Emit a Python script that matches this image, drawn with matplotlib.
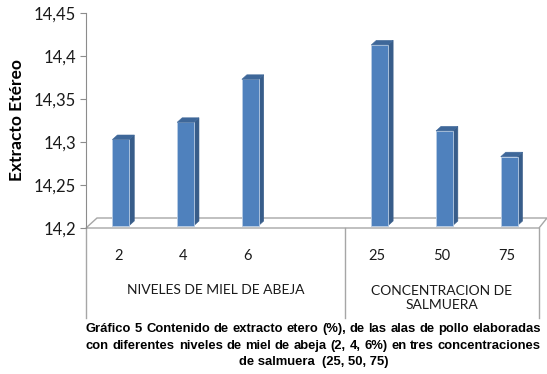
import matplotlib
matplotlib.use("Agg")
import matplotlib.pyplot as plt
from matplotlib.patches import Polygon
from matplotlib.transforms import offset_copy, IdentityTransform, blended_transform_factory
from matplotlib import font_manager

# --- data -------------------------------------------------------------
group_names = ["NIVELES DE MIEL DE ABEJA", "CONCENTRACION DE\nSALMUERA"]
miel_labels = ["2", "4", "6"]
miel_values = [14.30, 14.32, 14.37]
salmuera_labels = ["25", "50", "75"]
salmuera_values = [14.41, 14.31, 14.28]
y_ticks = [14.2, 14.25, 14.3, 14.35, 14.4, 14.45]
y_tick_labels = ["14,2", "14,25", "14,3", "14,35", "14,4", "14,45"]
y_label = "Extracto Etéreo"
caption_lines = [
    "Gráfico 5 Contenido de extracto etero (%), de las alas de pollo elaboradas",
    "con diferentes niveles de miel de abeja  (2, 4, 6%) en tres concentraciones",
    "de salmuera  (25, 50, 75)",
]

# --- styling ------------------------------------------------------------
W, H, DPI = 547, 374, 100
FRONT = "#4F81BD"
SIDE = "#385D8A"
TOP = "#3E6799"
EDGE = "#B9CDE5"
AXIS = "#8C8C8C"

names = {f.name for f in font_manager.fontManager.ttflist}
base_font = "Lato" if "Lato" in names else "DejaVu Sans"
cap_font = "Liberation Sans Narrow" if "Liberation Sans Narrow" in names else "Liberation Sans"
plt.rcParams["font.family"] = [base_font, "DejaVu Sans"]

fig = plt.figure(figsize=(W / DPI, H / DPI), dpi=DPI)
x0, x1, ytop, ybot = 86, 539, 13, 228
ax = fig.add_axes([x0 / W, (H - ybot) / H, (x1 - x0) / W, (ybot - ytop) / H])

# slot layout: the first group has an empty trailing slot
labels = miel_labels + [""] + salmuera_labels
values = miel_values + [None] + salmuera_values
positions = list(range(len(labels)))
ax.set_xlim(-0.5, len(labels) - 0.5)
ax.set_ylim(y_ticks[0], y_ticks[-1])

# floor of the 3-D plot area
floor_back = offset_copy(ax.transAxes, fig=fig, x=11, y=10, units="dots")
fl = [ax.transAxes.transform(p) for p in [(0, 0), (1, 0)]]
bl = [floor_back.transform(p) for p in [(0, 0), (1, 0)]]
floor = Polygon([fl[0], bl[0], (bl[1][0] - 3, bl[1][1]), (fl[1][0], fl[1][1])],
                closed=True, facecolor="white", edgecolor="#A6A6A6", lw=1.0,
                transform=IdentityTransform(), zorder=1, clip_on=False)
ax.add_patch(floor)

# bars: front face via ax.bar, side and top faces in pixel offsets
bx = [p for p, v in zip(positions, values) if v is not None]
bv = [v for v in values if v is not None]
shift = offset_copy(ax.transData, fig=fig, x=2.5, y=2.5, units="dots")
bar_w = 0.26
ax.bar(bx, [v - y_ticks[0] for v in bv], bottom=y_ticks[0], width=bar_w,
       color=FRONT, edgecolor=EDGE, linewidth=0.6, transform=shift, zorder=3)
dx, dy = 5.0, 4.5
for p, v in zip(bx, bv):
    xl, yb = shift.transform((p - bar_w / 2, y_ticks[0]))
    xr, yt = shift.transform((p + bar_w / 2, v))
    side = Polygon([(xr, yb), (xr, yt), (xr + dx, yt + dy), (xr + dx, yb + dy)],
                   closed=True, facecolor=SIDE, edgecolor=SIDE, lw=0.4,
                   transform=IdentityTransform(), zorder=2.9)
    top = Polygon([(xl, yt), (xr, yt), (xr + dx, yt + dy), (xl + dx, yt + dy)],
                  closed=True, facecolor=TOP, edgecolor=TOP, lw=0.4,
                  transform=IdentityTransform(), zorder=3.1)
    ax.add_patch(side)
    ax.add_patch(top)

# axes styling
for s in ["top", "right", "bottom"]:
    ax.spines[s].set_visible(False)
ax.spines["left"].set_color(AXIS)
ax.set_yticks(y_ticks)
ax.set_yticklabels(y_tick_labels, fontsize=12, color="#1a1a1a")
ax.tick_params(axis="y", length=4, color=AXIS, pad=3)
ax.set_xticks(positions)
ax.set_xticklabels(labels, fontsize=10.5, color="#1a1a1a")
ax.tick_params(axis="x", length=0, pad=15)
ax.set_ylabel(y_label, fontsize=12.5, fontweight="bold")
ax.yaxis.set_label_coords(-61 / (x1 - x0), 0.5)

# multi-level category box
bt = blended_transform_factory(ax.transData, ax.transAxes)
box_h = (318 - ybot) / (ybot - ytop)
for xv in [-0.5, 3.5, len(labels) - 0.5]:
    ax.plot([xv, xv], [0, -box_h], color="#A6A6A6", lw=1.0, transform=bt, clip_on=False)
grp_centers = [1.5, 5.0]
ax.text(grp_centers[0], -(290 - ybot) / (ybot - ytop), group_names[0], transform=bt,
        ha="center", va="center", fontsize=10, color="#1a1a1a")
ax.text(grp_centers[1], -(298 - ybot) / (ybot - ytop), group_names[1], transform=bt,
        ha="center", va="center", fontsize=10, color="#1a1a1a", linespacing=1.25)

# caption: first two lines justified across the plot width, last one centred
cap_y = [329, 346, 362]
cap_left, cap_right = 86, 541
cap_kw = dict(fontsize=9.4, fontweight="bold", family=[cap_font, "DejaVu Sans"])
renderer = fig.canvas.get_renderer()
for i, (line, yy) in enumerate(zip(caption_lines, cap_y)):
    yf = 1 - yy / H
    if i == len(caption_lines) - 1:
        fig.text(314 / W, yf, line, ha="center", va="center", **cap_kw)
        continue
    words = line.split()
    arts = [fig.text(0, yf, w, ha="left", va="center", **cap_kw) for w in words]
    widths = [a.get_window_extent(renderer).width for a in arts]
    gap = max(2.0, (cap_right - cap_left - sum(widths)) / (len(words) - 1))
    xpos = (cap_left + cap_right) / 2 - (sum(widths) + gap * (len(words) - 1)) / 2
    for a, wd in zip(arts, widths):
        a.set_x(xpos / W)
        xpos += wd + gap

fig.savefig("out.png", dpi=DPI)
